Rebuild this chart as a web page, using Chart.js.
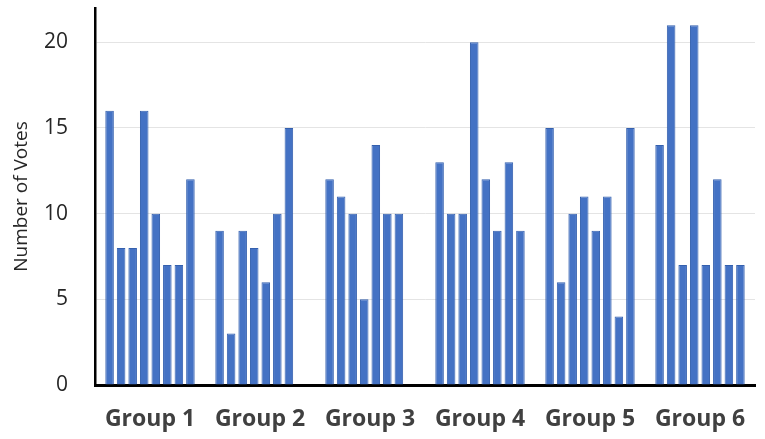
<!DOCTYPE html>
<html>
<head>
<meta charset="utf-8">
<script src="https://cdn.jsdelivr.net/npm/chart.js@4/dist/chart.umd.min.js"></script>
<style>
  html, body { margin: 0; padding: 0; background: #fff; }
  #wrap { width: 765px; height: 439px; }
</style>
</head>
<body>
<div id="wrap"><canvas id="votesChart"></canvas></div>
<script>
// Data
const groups = ['Group 1', 'Group 2', 'Group 3', 'Group 4', 'Group 5', 'Group 6'];
const group1Votes = [16, 8, 8, 16, 10, 7, 7, 12];
const group2Votes = [9, 3, 9, 8, 6, 10, 15];
const group3Votes = [12, 11, 10, 5, 14, 10, 10];
const group4Votes = [13, 10, 10, 20, 12, 9, 13, 9];
const group5Votes = [15, 6, 10, 11, 9, 11, 4, 15];
const group6Votes = [14, 21, 7, 21, 7, 12, 7, 7];
const yTicks = [0, 5, 10, 15, 20];

const allVotes = [group1Votes, group2Votes, group3Votes, group4Votes, group5Votes, group6Votes];
const slots = Math.max(...allVotes.map(v => v.length));

// One dataset per bar slot inside a group
const datasets = [];
for (let i = 0; i < slots; i++) {
    datasets.push({
        label: 'Bar ' + (i + 1),
        data: allVotes.map(v => (v[i] === undefined ? null : v[i])),
        backgroundColor: '#4472C4',
        borderColor: '#3460AE',
        borderWidth: 1,
        categoryPercentage: 0.84,
        barPercentage: 0.74
    });
}

const ctx = document.getElementById('votesChart').getContext('2d');

new Chart(ctx, {
    type: 'bar',
    data: { labels: groups, datasets: datasets },
    options: {
        responsive: true,
        maintainAspectRatio: false,
        animation: false,
        layout: { padding: { top: 8, right: 10, left: 0, bottom: 0 } },
        plugins: {
            legend: { display: false },
            tooltip: { enabled: false }
        },
        scales: {
            x: {
                grid: { display: false },
                border: { color: '#000', width: 3 },
                ticks: {
                    color: '#404040',
                    padding: 13,
                    font: { family: 'Open Sans', size: 23, weight: 'bold' }
                },
                afterFit: s => { s.height = 54; }
            },
            y: {
                min: 0,
                max: 22,
                afterBuildTicks: s => { s.ticks = yTicks.map(v => ({ value: v })); },
                grid: { color: '#E4E4E4', lineWidth: 1, drawTicks: false },
                border: { color: '#000', width: 2.5 },
                ticks: {
                    color: '#262626',
                    padding: 27,
                    font: { family: 'Open Sans', size: 21 }
                },
                title: {
                    display: true,
                    text: 'Number of Votes',
                    color: '#262626',
                    padding: { top: 10, bottom: 0 },
                    font: { family: 'Open Sans', size: 19 }
                },
                afterFit: s => {
                    s.width = 95;
                    // tick padding otherwise pushes the plot top down
                    s.paddingTop = 0;
                    s.paddingBottom = 0;
                }
            }
        }
    }
});
</script>
</body>
</html>
